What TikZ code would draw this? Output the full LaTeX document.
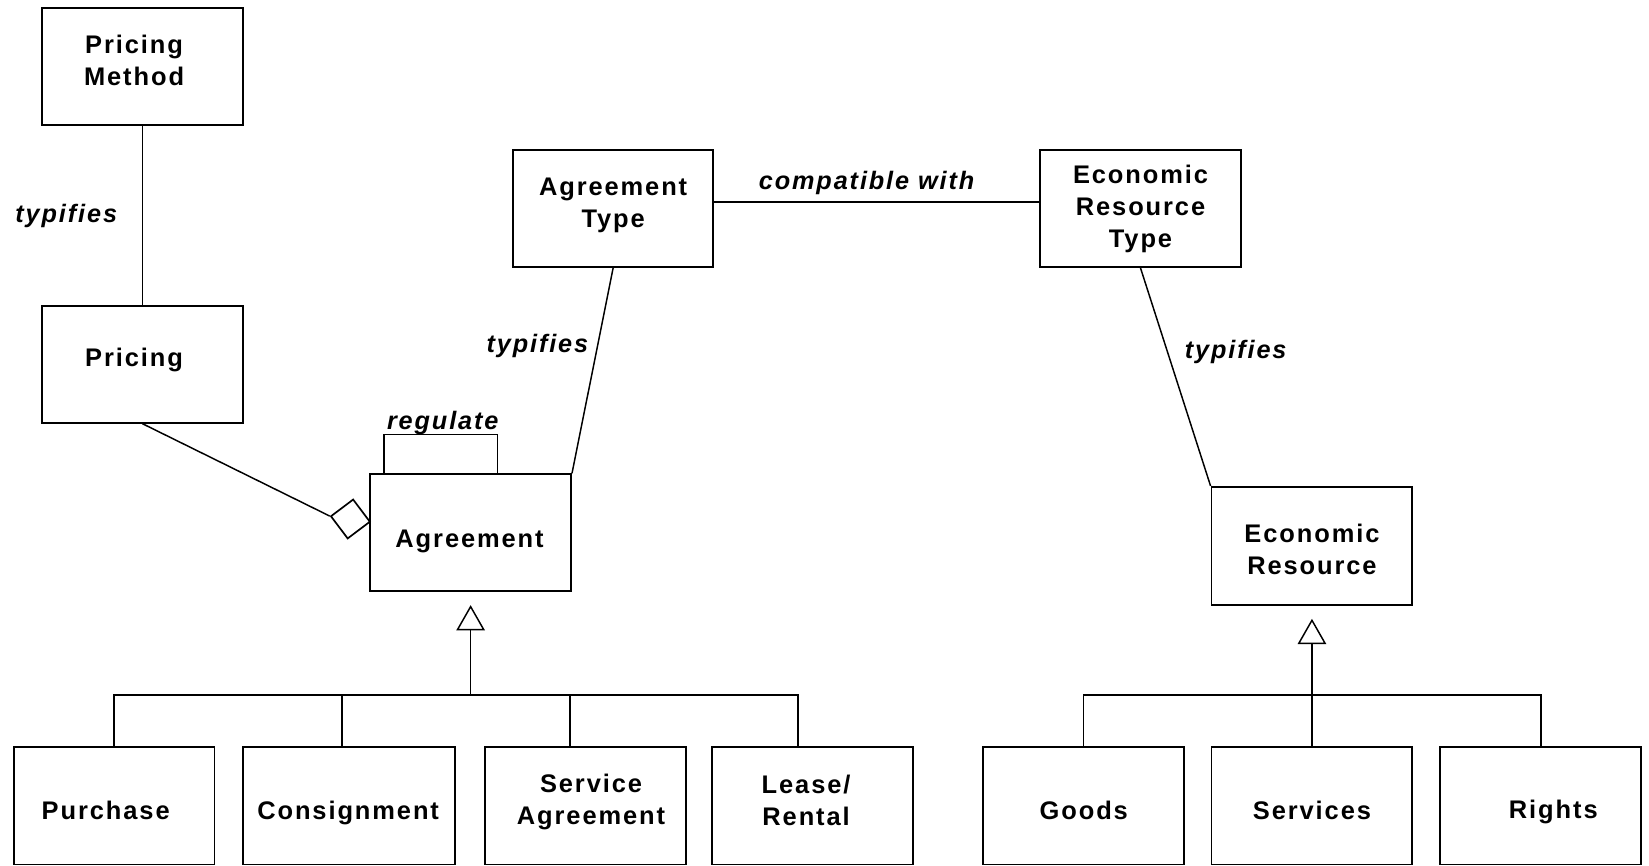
\documentclass[tikz,border=0pt]{standalone}
\usepackage{fontspec}
\setmainfont{Liberation Sans}[LetterSpace=7.5]
\usetikzlibrary{arrows.meta,shapes.geometric}
\begin{document}
\begin{tikzpicture}[x=1pt,y=-1pt,
  box/.style={draw, line width=1.8pt, minimum width=191pt, minimum height=111pt, inner sep=0pt},
  txt/.style={font=\bfseries\fontsize{24.2pt}{30.5pt}\selectfont, align=center, inner sep=0pt},
  lbl/.style={font=\bfseries\itshape\fontsize{24pt}{30.5pt}\selectfont, inner sep=0pt},
  conn/.style={line width=1.4pt},
  gen/.style={line width=1.4pt, -{Triangle[open, length=24pt, width=27pt]}}]
\useasboundingbox (0,0) rectangle (1568,823.4);

% top-left
\node[box, label={[txt, xshift=-8pt, yshift=5.5pt]center:{Pricing\\Method}}] (pm) at (135.5,63) {};
\node[box, label={[txt, xshift=-8pt, yshift=4.5pt]center:{Pricing}}] (pr) at (135.5,346.5) {};
% types
\node[box, minimum width=190pt, label={[txt, yshift=3.5pt]center:{Agreement\\Type}}] (at) at (583,198.5) {};
\node[box, label={[txt, yshift=0pt]center:{Economic\\Resource\\Type}}] (ert) at (1084.5,198.5) {};
% main classes
\node[box, label={[txt, xshift=-1pt, yshift=-8.5pt]center:{Agreement}}] (agr) at (447.5,506.5) {};
\node[box, minimum height=112pt, label={[txt, yshift=-3pt]center:{Economic\\Resource}}] (er) at (1247.5,519) {};
% subclasses
\node[box, minimum height=112pt, label={[txt, xshift=-8pt, yshift=-5pt]center:{Purchase}}] (pur) at (108.5,766) {};
\node[box, minimum width=202pt, minimum height=112pt, label={[txt, xshift=-1pt, yshift=-7pt]center:{Consignment}}] (con) at (332,766) {};
\node[box, minimum height=112pt, label={[txt, xshift=5.5pt, yshift=3.5pt]center:{Service\\Agreement}}] (sa) at (556.5,766) {};
\node[box, minimum height=112pt, label={[txt, xshift=-6pt, yshift=5pt]center:{Lease/\\Rental}}] (lr) at (772.5,766) {};
\node[box, minimum height=112pt, label={[txt, yshift=-5pt]center:{Goods}}] (gd) at (1030.5,766) {};
\node[box, minimum height=112pt, label={[txt, yshift=-5pt]center:{Services}}] (sv) at (1247.5,766) {};
\node[box, minimum height=112pt, label={[txt, xshift=12.5pt, yshift=-6pt]center:{Rights}}] (rt) at (1464.5,766) {};

% aggregation diamond
\node[diamond, draw, fill=white, line width=1.6pt, minimum width=38pt, minimum height=38pt, inner sep=0pt, rotate=-8] (dia) at (333.2,493.5) {};

% association labels
\node[lbl] (l1) at (63,205) {typifies};
\node[lbl] (l2) at (511,329) {typifies};
\node[lbl] (l3) at (1175,335) {typifies};
\node[lbl] (l4) at (824,174) {compatible with};
\node[lbl] (l5) at (421,402) {regulate};

% associations
\draw[conn] (pm) -- (pr);
\draw[conn] ([yshift=6.5pt]at.east) -- ([yshift=6.5pt]ert.west);
\draw[conn] (at.south) -- (agr.north east);
\draw[conn] (ert.south) -- (er.north west);
\draw[conn] (pr.south) -- (dia.west);
\draw[conn] ([xshift=14pt]agr.north west) -- ([xshift=14pt, yshift=37pt]agr.north west)
  -- ([xshift=122pt, yshift=37pt]agr.north west) -- ([xshift=122pt]agr.north west);

% generalization: agreement
\coordinate (b1) at (447.5,661);
\draw[conn] (pur.north) |- (b1);
\draw[conn] ([xshift=-7pt]con.north) |- (b1);
\draw[conn] ([xshift=-14.5pt]sa.north) |- (b1);
\draw[conn] ([xshift=-13.5pt]lr.north) |- (b1);
\draw[gen] (b1) -- ([yshift=-12.5pt]agr.south);

% generalization: economic resource
\coordinate (b2) at (1247.5,661);
\draw[conn] (gd.north) |- (b2);
\draw[conn] (sv.north) -- (b2);
\draw[conn] ([xshift=1pt]rt.north) |- (b2);
\draw[gen] (b2) -- ([yshift=-12.5pt]er.south);
\end{tikzpicture}
\end{document}
